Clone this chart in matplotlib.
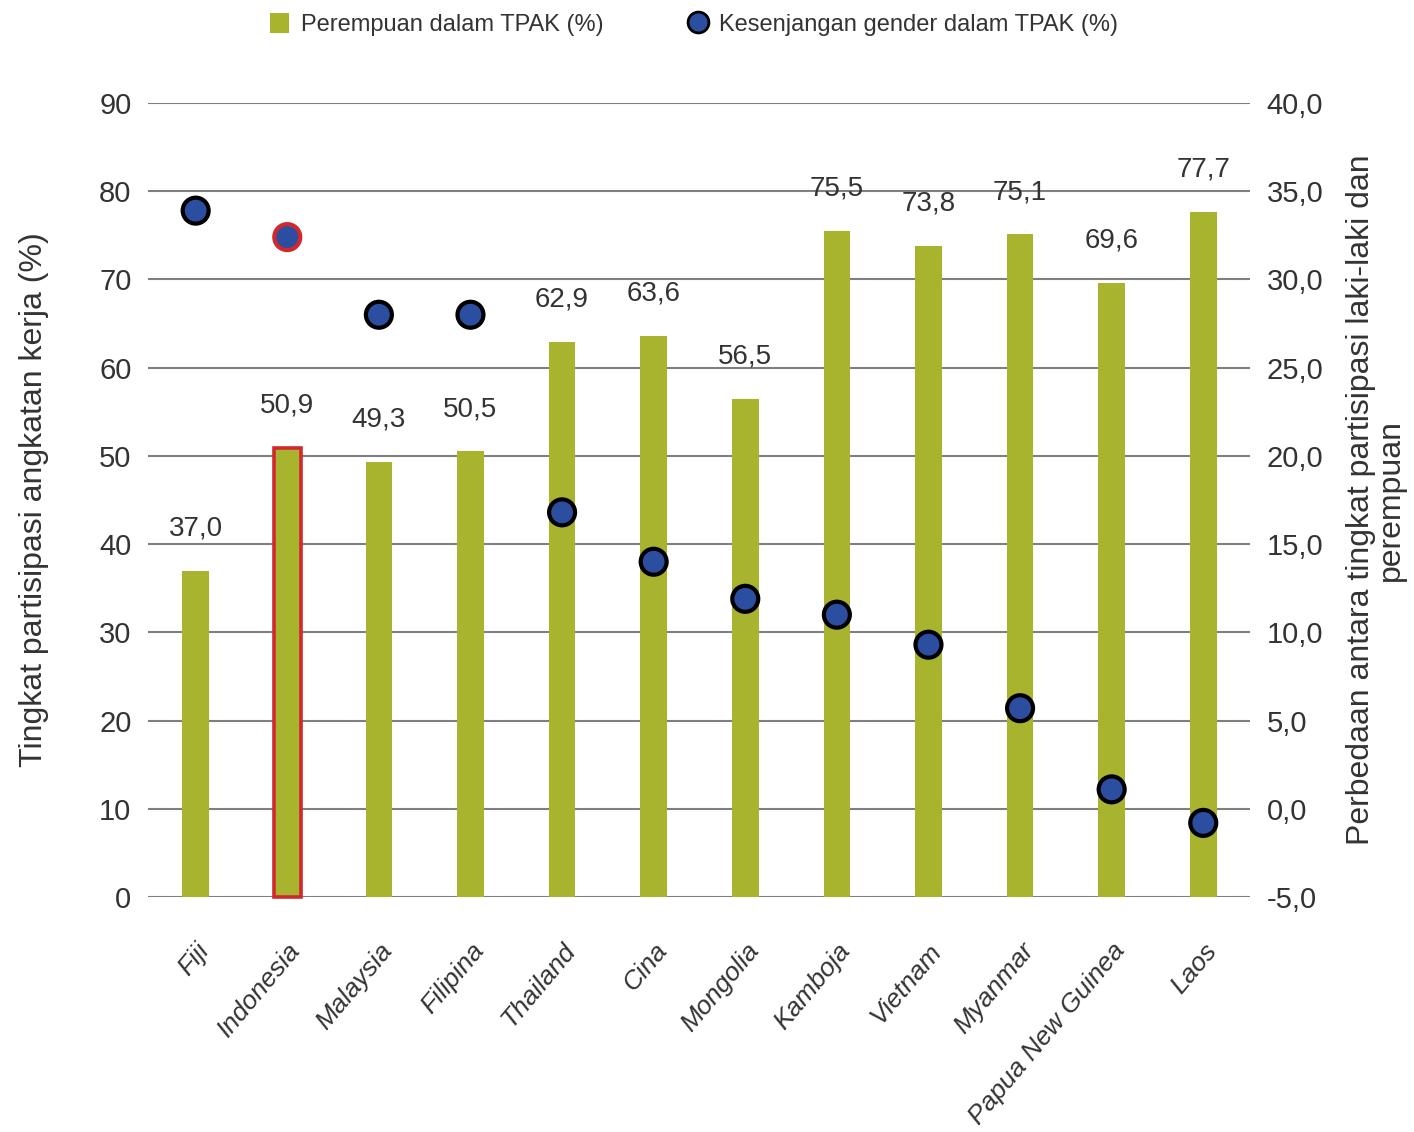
import matplotlib
matplotlib.use("Agg")
import matplotlib.pyplot as plt
from matplotlib.lines import Line2D
from matplotlib.patches import Patch

# data
countries = ["Fiji", "Indonesia", "Malaysia", "Filipina", "Thailand", "Cina",
             "Mongolia", "Kamboja", "Vietnam", "Myanmar", "Papua New Guinea", "Laos"]
women_lfpr = [37.0, 50.9, 49.3, 50.5, 62.9, 63.6, 56.5, 75.5, 73.8, 75.1, 69.6, 77.7]
gender_gap = [33.9, 32.4, 28.0, 28.0, 16.8, 14.0, 11.9, 11.0, 9.3, 5.7, 1.1, -0.8]
left_ticks = list(range(0, 91, 10))
right_ticks = [-5, 0, 5, 10, 15, 20, 25, 30, 35, 40]
highlight = "Indonesia"

BAR = "#a9b42e"
DOT = "#2b4ea0"
RED = "#d2282c"
GRID = "#7f7f7f"
TXT = "#333333"
FONT = "Liberation Sans"

fig = plt.figure(figsize=(14.14, 11.32), dpi=100)
ax = fig.add_axes([0.1047, 0.2076, 0.7793, 0.7014])
ax2 = ax.twinx()

x = list(range(len(countries)))
bars = ax.bar(x, women_lfpr, width=0.29, color=BAR, zorder=2)
hi = countries.index(highlight)
bars[hi].set_edgecolor(RED)
bars[hi].set_linewidth(2.6)
bars[hi].set_clip_on(False)

# value labels above the bars
for xi, v in zip(x, women_lfpr):
    ax.annotate(f"{v:.1f}".replace(".", ","), (xi, v), xytext=(0, 21),
                textcoords="offset points", ha="center", va="bottom",
                fontsize=20, color=TXT, family=FONT)

edge = ["black"] * len(countries)
edge[hi] = RED
ax2.scatter(x, gender_gap, s=350, c=DOT, edgecolors=edge, linewidths=3,
            zorder=5, clip_on=False)

ax.set_xlim(-0.52, 11.51)
ax.set_ylim(0, 90)
ax2.set_ylim(-5, 40)
ax.set_yticks(left_ticks)
ax2.set_yticks(right_ticks)
ax2.set_yticklabels([f"{t:.1f}".replace(".", ",") for t in right_ticks])
ax.grid(axis="y", color=GRID, linewidth=1.5, zorder=0)
ax.set_axisbelow(True)

for a in (ax, ax2):
    for s in a.spines.values():
        s.set_visible(False)
    a.tick_params(length=0, labelsize=21, labelcolor=TXT)
    for lab in a.get_yticklabels():
        lab.set_family(FONT)
ax.tick_params(axis="y", pad=12)
ax2.tick_params(axis="y", pad=12)

ax.set_xticks(x)
ax.set_xticklabels(countries, rotation=50, ha="right", rotation_mode="anchor",
                   fontsize=19, style="italic", color=TXT, family=FONT)
ax.tick_params(axis="x", pad=30)

ax.set_ylabel("Tingkat partisipasi angkatan kerja (%)", fontsize=23, color=TXT,
              family=FONT, labelpad=36)
ax2.set_ylabel("Perbedaan antara tingkat partisipasi laki-laki dan\nperempuan",
               fontsize=23, color=TXT, family=FONT, labelpad=16,
               rotation=90, linespacing=1.0)

handles = [Patch(facecolor=BAR, edgecolor="none"),
           Line2D([], [], marker="o", linestyle="none", markersize=15,
                  markerfacecolor=DOT, markeredgecolor="black", markeredgewidth=2)]
fig.legend(handles, ["Perempuan dalam TPAK (%)", "Kesenjangan gender dalam TPAK (%)"],
           loc="center", bbox_to_anchor=(0.491, 0.978), ncol=2, frameon=False,
           prop={"family": FONT, "size": 17}, handlelength=0.8, handleheight=0.9,
           handletextpad=0.5, columnspacing=3.6, labelcolor=TXT)

fig.savefig("out.png", dpi=100)
